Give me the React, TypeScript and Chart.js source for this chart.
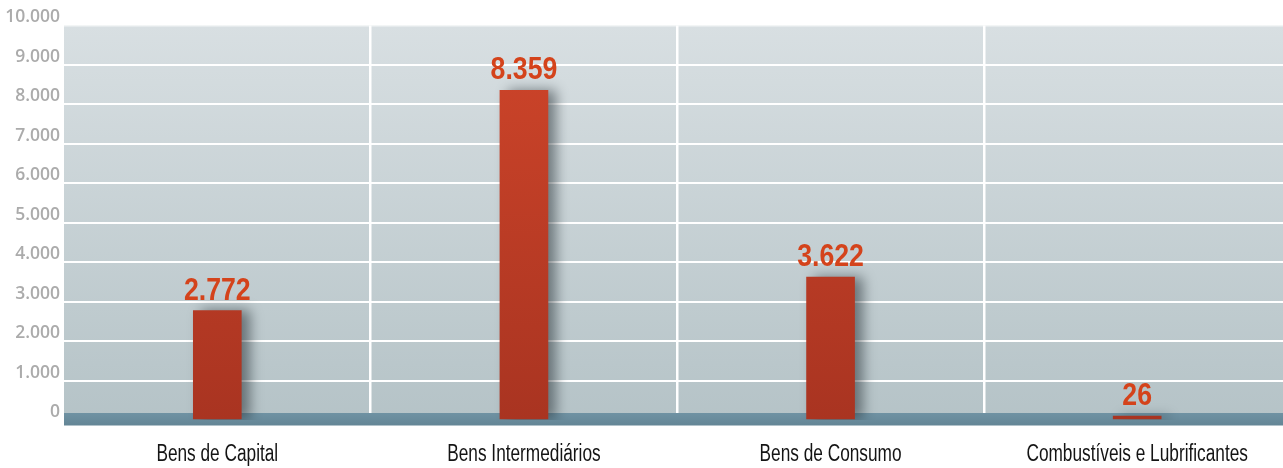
import React, { useEffect, useRef } from "react";
import { Chart, registerables } from "chart.js";

Chart.register(...registerables);

const categories: string[] = [
  "Bens de Capital",
  "Bens Intermediários",
  "Bens de Consumo",
  "Combustíveis e Lubrificantes",
];
const values: number[] = [2772, 8359, 3622, 26];
const yMin = 0;
const yMax = 10000;
const yStep = 1000;

const fmt = (n: number): string =>
  String(Math.round(n)).replace(/\B(?=(\d{3})+(?!\d))/g, ".");

const drawNarrow = (ctx: any, text: string, x: number, y: number, sx: number) => {
  ctx.save();
  ctx.translate(x, y);
  ctx.scale(sx, 1);
  ctx.fillText(text, 0, 0);
  ctx.restore();
};

const decorPlugin = {
  id: "decor",
  beforeDraw(chart: any) {
    const { ctx, chartArea } = chart;
    if (!chartArea) return;
    const { left, right, top, bottom } = chartArea;
    const g = ctx.createLinearGradient(0, top, 0, bottom);
    g.addColorStop(0, "#d8dfe2");
    g.addColorStop(1, "#b5c3c7");
    ctx.save();
    ctx.fillStyle = g;
    ctx.fillRect(left, top, right - left, bottom - top);
    ctx.restore();
  },
  beforeDatasetsDraw(chart: any) {
    const { ctx, chartArea, scales } = chart;
    const y0 = scales.y.getPixelForValue(0);
    const g = ctx.createLinearGradient(0, y0 - 7, 0, y0 + 6);
    g.addColorStop(0, "#6f92a3");
    g.addColorStop(1, "#638595");
    ctx.save();
    ctx.fillStyle = g;
    ctx.fillRect(chartArea.left, y0 - 7, chartArea.right - chartArea.left, 12.5);
    ctx.restore();
    ctx.save();
    ctx.shadowColor = "rgba(35,45,50,0.55)";
    ctx.shadowBlur = 12;
    ctx.shadowOffsetX = 8;
    ctx.shadowOffsetY = 0;
  },
  afterDatasetsDraw(chart: any) {
    const { ctx, chartArea, scales } = chart;
    ctx.restore();
    const meta = chart.getDatasetMeta(0);
    ctx.save();
    ctx.font = 'bold 31px "Liberation Sans", Arial, sans-serif';
    ctx.fillStyle = "#d4431b";
    ctx.textAlign = "center";
    ctx.textBaseline = "alphabetic";
    meta.data.forEach((el: any, i: number) => {
      drawNarrow(ctx, fmt(values[i]), el.x, el.y - 11, 0.86);
    });
    ctx.font = '23px "Liberation Sans", Arial, sans-serif';
    ctx.fillStyle = "#141414";
    ctx.textBaseline = "middle";
    categories.forEach((c, i) => {
      drawNarrow(ctx, c, scales.x.getPixelForTick(i), chartArea.bottom + 35, 0.75);
    });
    ctx.restore();
  },
};

export default function App() {
  const ref = useRef<HTMLCanvasElement | null>(null);
  useEffect(() => {
    if (!ref.current) return;
    const chart = new Chart(ref.current, {
      type: "bar",
      data: {
        labels: categories,
        datasets: [
          {
            data: values,
            barThickness: 48,
            minBarLength: 4,
            borderWidth: 0,
            backgroundColor: (c: any) => {
              const ca = c.chart.chartArea;
              if (!ca) return "#c23e25";
              const g = c.chart.ctx.createLinearGradient(0, ca.top, 0, ca.bottom);
              g.addColorStop(0, "#cf452a");
              g.addColorStop(1, "#a93421");
              return g;
            },
          },
        ],
      },
      options: {
        animation: false,
        responsive: false,
        maintainAspectRatio: false,
        layout: { padding: { left: 0, right: 9.5, top: 25.5, bottom: 0 } },
        plugins: {
          legend: { display: false },
          tooltip: { enabled: false },
        },
        scales: {
          x: {
            offset: true,
            border: { display: false },
            grid: {
              offset: true,
              drawTicks: false,
              lineWidth: 2.5,
              color: (c: any) => (c.index === 0 ? "rgba(0,0,0,0)" : "#ffffff"),
            },
            ticks: {
              padding: 20,
              color: "rgba(0,0,0,0)",
              font: { size: 20 },
              maxRotation: 0,
              autoSkip: false,
            },
            afterFit: (s: any) => {
              s.height = 48;
            },
          },
          y: {
            min: yMin,
            max: yMax,
            border: { display: false },
            grid: {
              drawTicks: false,
              lineWidth: 2,
              color: (c: any) =>
                c.tick && c.tick.value === yMax ? "rgba(255,255,255,0.35)" : "#ffffff",
            },
            ticks: {
              stepSize: yStep,
              padding: 4,
              labelOffset: -8,
              color: "#ababab",
              font: { family: '"Open Sans", sans-serif', size: 17.5, weight: 600 },
              callback: (v: any) => fmt(Number(v)),
            },
            afterFit: (s: any) => {
              s.width = 64;
            },
          },
        },
      },
      plugins: [decorPlugin],
    });
    return () => chart.destroy();
  }, []);
  return (
    <div
      style={{
        position: "absolute",
        left: 0,
        top: 0,
        width: 1283,
        height: 468,
        overflow: "hidden",
        background: "#ffffff",
      }}
    >
      <canvas ref={ref} width={1300} height={468} style={{ display: "block" }} />
    </div>
  );
}
